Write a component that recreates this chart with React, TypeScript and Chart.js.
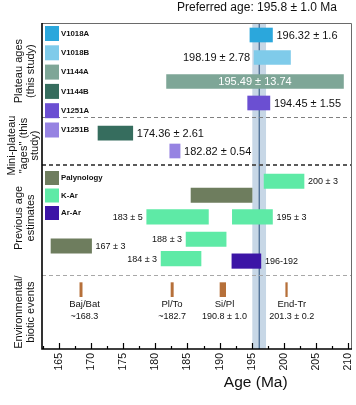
import React, { useEffect, useRef } from 'react';
import { Chart, registerables } from 'chart.js';

Chart.register(...registerables);

// ---------- axis ----------
const AGE_MIN = 162.4;
const AGE_MAX = 210.4;
const ROW_MAX = 14.5;
const majorTicks = [165, 170, 175, 180, 185, 190, 195, 200, 205, 210];
const minorTicks = [162.5, 167.5, 172.5, 177.5, 182.5, 187.5, 192.5, 197.5, 202.5, 207.5];

// ---------- samples (legend) ----------
const sampleNames = ['V1018A', 'V1018B', 'V1144A', 'V1144B', 'V1251A', 'V1251B'];
const sampleColors = ['#2ba7dc', '#7fcbea', '#7ea697', '#366d5e', '#6b4fd2', '#9683e2'];

// ---------- plateau & mini-plateau ages (this study) ----------
const plateauSample = ['V1018A', 'V1018B', 'V1144A', 'V1251A', 'V1144B', 'V1251B'];
const plateauStart = [194.7, 195.35, 181.75, 194.35, 171.1, 182.25];
const plateauEnd = [198.2, 201.0, 209.23, 197.8, 176.5, 183.85];
const plateauRow = [0.534, 1.535, 2.602, 3.558, 4.9, 5.693];
const plateauLabel = ['196.32 ± 1.6', '198.19 ± 2.78', '195.49 ± 13.74', '194.45 ± 1.55', '174.36 ± 2.61', '182.82 ± 0.54'];
const plateauLabelSide = ['right', 'left', 'inside', 'right', 'right', 'right'];

// ---------- previous age estimates ----------
const methodNames = ['Palynology', 'K-Ar', 'Ar-Ar'];
const methodColors = ['#6e7d5e', '#5eeaa6', '#3c15a6'];
const prevMethod = ['K-Ar', 'Palynology', 'K-Ar', 'K-Ar', 'K-Ar', 'Palynology', 'K-Ar', 'Ar-Ar'];
const prevStart = [196.9, 185.55, 178.67, 191.97, 184.78, 163.8, 180.9, 191.9];
const prevEnd = [203.1, 195.03, 188.25, 198.2, 191.0, 170.1, 187.1, 196.4];
const prevRow = [7.04, 7.66, 8.62, 8.62, 9.62, 9.92, 10.48, 10.59];
const prevLabel = ['200 ± 3', '', '183 ± 5', '195 ± 3', '188 ± 3', '167 ± 3', '184 ± 3', '196-192'];
const prevLabelSide = ['right', '', 'left', 'right', 'left', 'right', 'left', 'right'];

// ---------- environmental / biotic events ----------
const eventNames = ['Baj/Bat', 'Pl/To', 'Si/Pl', 'End-Tr'];
const eventAgeText = ['~168.3', '~182.7', '190.8 ± 1.0', '201.3 ± 0.2'];
const eventStart = [168.28, 182.44, 190.05, 200.26];
const eventEnd = [168.64, 182.8, 190.93, 200.51];
const eventLabelAt = [169.0, 182.6, 190.75, 201.2];
const eventRow = 11.86;
const eventNameRow = 12.53;
const eventAgeRow = 13.07;
const eventColor = '#b6703a';

// ---------- preferred age ----------
const preferredTitle = 'Preferred age: 195.8 ± 1.0 Ma';
const preferredTitleAt = 195.8;
const preferredLine = 196.15;
const preferredLo = 195.07;
const preferredHi = 197.2;

// ---------- sections ----------
const separatorRows = [4.194, 6.316, 11.21];
const separatorStyles = [
  { color: '#808080', width: 1 },
  { color: '#5a5a5a', width: 2 },
  { color: '#a8a8a8', width: 1 },
];
const sectionTitles = [
  ['Plateau ages', '(this study)'],
  ['Mini-plateau', '"ages" (this', 'study)'],
  ['Previous age', 'estimates'],
  ['Environmental/', 'biotic events'],
];
const sectionCenterRows = [2.14, 5.45, 8.67, 12.86];
const xTitle = 'Age (Ma)';

const FONT = '"Liberation Sans", Arial, Helvetica, sans-serif';

const colorOfSample = (n: string) => sampleColors[sampleNames.indexOf(n)];
const colorOfMethod = (n: string) => methodColors[methodNames.indexOf(n)];

const overlayPlugin = {
  id: 'overlay',
  beforeDatasetsDraw(chart: any) {
    const { ctx, chartArea: ca, scales } = chart;
    const x = scales.x;
    const y = scales.y;
    ctx.save();
    const b0 = x.getPixelForValue(preferredLo);
    const b1 = x.getPixelForValue(preferredHi);
    ctx.fillStyle = 'rgba(180,202,222,0.75)';
    ctx.fillRect(b0, ca.top, b1 - b0, ca.bottom - ca.top);
    const lx = x.getPixelForValue(preferredLine);
    ctx.strokeStyle = '#4b6d93';
    ctx.lineWidth = 1.3;
    ctx.beginPath();
    ctx.moveTo(lx, ca.top);
    ctx.lineTo(lx, ca.bottom);
    ctx.stroke();
    separatorRows.forEach((r, i) => {
      const py = Math.round(y.getPixelForValue(r)) + (separatorStyles[i].width === 1 ? 0.5 : 0);
      ctx.strokeStyle = separatorStyles[i].color;
      ctx.lineWidth = separatorStyles[i].width;
      ctx.setLineDash([4, 3]);
      ctx.beginPath();
      ctx.moveTo(ca.left, py);
      ctx.lineTo(ca.right, py);
      ctx.stroke();
    });
    ctx.setLineDash([]);
    ctx.restore();
  },
  afterDatasetsDraw(chart: any) {
    const { ctx, chartArea: ca, scales } = chart;
    const x = scales.x;
    const y = scales.y;
    ctx.save();

    const drawBarLabels = (starts: number[], ends: number[], rows: number[], labels: string[], sides: string[], size: number) => {
      labels.forEach((t, i) => {
        if (!t) return;
        const py = y.getPixelForValue(rows[i]);
        const x0 = x.getPixelForValue(starts[i]);
        const x1 = x.getPixelForValue(ends[i]);
        ctx.font = `${size}px ${FONT}`;
        ctx.textBaseline = 'middle';
        if (sides[i] === 'right') {
          ctx.fillStyle = '#111';
          ctx.textAlign = 'left';
          ctx.fillText(t, x1 + 4, py + 0.5);
        } else if (sides[i] === 'left') {
          ctx.fillStyle = '#111';
          ctx.textAlign = 'right';
          ctx.fillText(t, x0 - 4, py + 0.5);
        } else {
          ctx.fillStyle = '#ffffff';
          ctx.textAlign = 'center';
          ctx.fillText(t, (x0 + x1) / 2, py + 0.5);
        }
      });
    };
    drawBarLabels(plateauStart, plateauEnd, plateauRow, plateauLabel, plateauLabelSide, 11);
    drawBarLabels(prevStart, prevEnd, prevRow, prevLabel, prevLabelSide, 9);

    // legends
    ctx.textAlign = 'left';
    ctx.textBaseline = 'middle';
    ctx.font = `bold 7.8px ${FONT}`;
    sampleNames.forEach((n, i) => {
      const top = ca.top + 3 + i * 19.3;
      ctx.fillStyle = sampleColors[i];
      ctx.fillRect(ca.left + 3, top, 14, 15);
      ctx.fillStyle = '#111';
      ctx.fillText(n, ca.left + 19, top + 7.5);
    });
    methodNames.forEach((n, i) => {
      const top = ca.top + 148 + i * 17.5;
      ctx.fillStyle = methodColors[i];
      ctx.fillRect(ca.left + 3, top, 14, 14);
      ctx.fillStyle = '#111';
      ctx.fillText(n, ca.left + 19, top + 7);
    });

    // event labels
    ctx.textAlign = 'center';
    ctx.fillStyle = '#111';
    eventNames.forEach((n, i) => {
      const px = x.getPixelForValue(eventLabelAt[i]);
      ctx.font = `9.5px ${FONT}`;
      ctx.fillText(n, px, y.getPixelForValue(eventNameRow));
      ctx.font = `9px ${FONT}`;
      ctx.fillText(eventAgeText[i], px, y.getPixelForValue(eventAgeRow));
    });

    // frame
    ctx.strokeStyle = '#6a6a6a';
    ctx.lineWidth = 1;
    ctx.beginPath();
    ctx.moveTo(ca.left, Math.round(ca.top) + 0.5);
    ctx.lineTo(Math.round(ca.right) + 0.5, Math.round(ca.top) + 0.5);
    ctx.lineTo(Math.round(ca.right) + 0.5, ca.bottom);
    ctx.stroke();
    ctx.strokeStyle = '#000';
    ctx.lineWidth = 1.6;
    ctx.beginPath();
    ctx.moveTo(ca.left, ca.top);
    ctx.lineTo(ca.left, ca.bottom);
    ctx.lineTo(ca.right + 1, ca.bottom);
    ctx.stroke();

    // ticks
    ctx.lineWidth = 1.2;
    ctx.strokeStyle = '#000';
    majorTicks.forEach((t) => {
      const px = Math.round(x.getPixelForValue(t)) + 0.5;
      ctx.beginPath();
      ctx.moveTo(px, ca.bottom);
      ctx.lineTo(px, ca.bottom - 6);
      ctx.stroke();
    });
    minorTicks.forEach((t) => {
      const px = Math.round(x.getPixelForValue(t)) + 0.5;
      ctx.beginPath();
      ctx.moveTo(px, ca.bottom);
      ctx.lineTo(px, ca.bottom - 3);
      ctx.stroke();
    });
    ctx.fillStyle = '#111';
    ctx.font = `10.5px ${FONT}`;
    majorTicks.forEach((t) => {
      const px = x.getPixelForValue(t);
      ctx.save();
      ctx.translate(px, ca.bottom + 4);
      ctx.rotate(-Math.PI / 2);
      ctx.textAlign = 'right';
      ctx.textBaseline = 'middle';
      ctx.fillText(String(t), 0, 0);
      ctx.restore();
    });
    ctx.font = `15.5px ${FONT}`;
    ctx.textAlign = 'center';
    ctx.textBaseline = 'middle';
    ctx.fillText(xTitle, x.getPixelForValue(195.6), 383);

    ctx.font = `12px ${FONT}`;
    ctx.fillText(preferredTitle, x.getPixelForValue(preferredTitleAt), 8);

    ctx.font = `11px ${FONT}`;
    sectionTitles.forEach((lines, i) => {
      const cy = y.getPixelForValue(sectionCenterRows[i]);
      const xs = lines.length === 3 ? [12, 23.5, 35] : [19, 31];
      lines.forEach((ln, j) => {
        ctx.save();
        ctx.translate(xs[j], cy);
        ctx.rotate(-Math.PI / 2);
        ctx.textAlign = 'center';
        ctx.textBaseline = 'middle';
        ctx.fillText(ln, 0, 0);
        ctx.restore();
      });
    });

    ctx.restore();
  },
};

export default function App() {
  const ref = useRef<HTMLCanvasElement | null>(null);
  useEffect(() => {
    document.body.style.margin = '0';
    const canvas = ref.current;
    if (!canvas) return;
    const chart = new Chart(canvas, {
      type: 'bar',
      data: {
        datasets: [
          {
            label: 'Plateau',
            data: plateauStart.map((s, i) => ({ x: [s, plateauEnd[i]], y: plateauRow[i] })) as any,
            backgroundColor: plateauSample.map(colorOfSample),
            barThickness: 14,
            stack: 'all',
          },
          {
            label: 'Previous',
            data: prevStart.map((s, i) => ({ x: [s, prevEnd[i]], y: prevRow[i] })) as any,
            backgroundColor: prevMethod.map(colorOfMethod),
            barThickness: 14.5,
            stack: 'all',
          },
          {
            label: 'Events',
            data: eventStart.map((s, i) => ({ x: [s, eventEnd[i]], y: eventRow })) as any,
            backgroundColor: eventColor,
            barThickness: 14,
            stack: 'all',
          },
        ],
      },
      options: {
        indexAxis: 'y',
        animation: false,
        responsive: false,
        devicePixelRatio: 1,
        layout: { padding: { left: 42, top: 23, right: 5, bottom: 56 } },
        scales: {
          x: { type: 'linear', min: AGE_MIN, max: AGE_MAX, display: false, stacked: false, offset: false },
          y: { type: 'linear', min: 0, max: ROW_MAX, reverse: true, display: false, offset: false, grid: { offset: false } },
        },
        plugins: { legend: { display: false }, tooltip: { enabled: false }, title: { display: false } },
      } as any,
      plugins: [overlayPlugin],
    });
    return () => chart.destroy();
  }, []);
  return (
    <div style={{ width: 356, height: 405 }}>
      <canvas ref={ref} width={356} height={405} style={{ display: 'block' }} />
    </div>
  );
}
